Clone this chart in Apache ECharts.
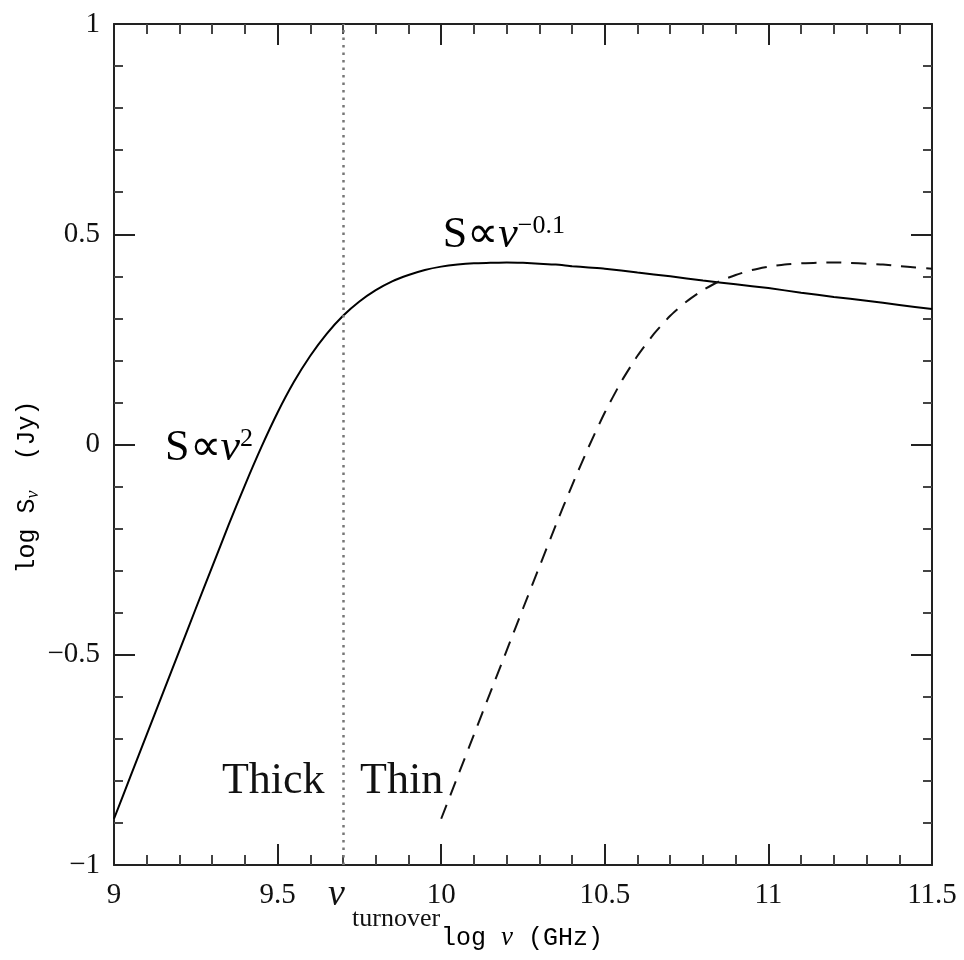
<!DOCTYPE html>
<html><head><meta charset="utf-8">
<script src="https://cdn.jsdelivr.net/npm/echarts@6/dist/echarts.min.js"></script>
<style>html,body{margin:0;padding:0;background:#fff}#c{width:964px;height:960px}</style>
</head><body><div id="c"></div>
<script>
// ---- data ----
const xTickLabels = ['9', '9.5', '10', '10.5', '11', '11.5'];
const yTickLabels = ['−1', '−0.5', '0', '0.5', '1'];

const solidX = [9.00, 9.05, 9.10, 9.15, 9.20, 9.25, 9.30, 9.35, 9.40, 9.45, 9.50, 9.55, 9.60, 9.65, 9.70,
  9.75, 9.80, 9.85, 9.90, 9.95, 10.00, 10.05, 10.10, 10.15, 10.20, 10.25, 10.30, 10.35, 10.40, 10.45, 10.50,
  10.60, 10.70, 10.80, 10.90, 11.00, 11.10, 11.20, 11.30, 11.40, 11.50];
const solidY = [-0.890, -0.790, -0.690, -0.590, -0.490, -0.390, -0.291, -0.192, -0.097, -0.007, 0.076, 0.149, 0.211, 0.263, 0.306,
  0.340, 0.367, 0.388, 0.403, 0.415, 0.423, 0.428, 0.431, 0.432, 0.433, 0.432, 0.430, 0.428, 0.424, 0.421, 0.418,
  0.409, 0.400, 0.390, 0.381, 0.372, 0.361, 0.351, 0.342, 0.332, 0.322];

const dashedX = [10.00, 10.05, 10.10, 10.15, 10.20, 10.25, 10.30, 10.35, 10.40, 10.45, 10.50, 10.55, 10.60, 10.65, 10.70,
  10.75, 10.80, 10.85, 10.90, 10.95, 11.00, 11.05, 11.10, 11.15, 11.20, 11.25, 11.30, 11.35, 11.40, 11.45, 11.50];
const dashedY = [-0.890, -0.790, -0.690, -0.590, -0.490, -0.390, -0.291, -0.192, -0.097, -0.007, 0.076, 0.149, 0.211, 0.263, 0.306,
  0.340, 0.367, 0.388, 0.403, 0.415, 0.423, 0.428, 0.431, 0.432, 0.433, 0.432, 0.430, 0.428, 0.424, 0.421, 0.418];

const turnoverX = 9.7;

// ---- chart ----
const chart = echarts.init(document.getElementById('c'), null, {renderer: 'canvas'});
const serif = 'Liberation Serif';
const mono = 'Liberation Mono';
const axisCol = '#222';

function xAxisDef(pos, showLabel) {
  return {
    type: 'value', min: 9, max: 11.5, interval: 0.5, position: pos,
    axisLine: {show: true, onZero: false, lineStyle: {color: axisCol, width: 2}},
    axisTick: {show: true, inside: true, length: 21, lineStyle: {color: axisCol, width: 2}},
    minorTick: {show: true, splitNumber: 5, length: 10, lineStyle: {color: '#444', width: 2}},
    splitLine: {show: false}, minorSplitLine: {show: false},
    axisLabel: {show: showLabel, margin: 16, fontFamily: serif, fontSize: 29, color: '#111',
      formatter: v => xTickLabels[Math.round((v - 9) / 0.5)]}
  };
}
function yAxisDef(pos, showLabel) {
  return {
    type: 'value', min: -1, max: 1, interval: 0.5, position: pos,
    axisLine: {show: true, onZero: false, lineStyle: {color: axisCol, width: 2}},
    axisTick: {show: true, inside: true, length: 21, lineStyle: {color: axisCol, width: 2}},
    minorTick: {show: true, splitNumber: 5, length: 9, lineStyle: {color: '#444', width: 2}},
    splitLine: {show: false}, minorSplitLine: {show: false},
    axisLabel: {show: showLabel, margin: 14, fontFamily: serif, fontSize: 29, color: '#111',
      formatter: v => yTickLabels[Math.round((v + 1) / 0.5)]}
  };
}

chart.setOption({
  animation: false,
  backgroundColor: '#fff',
  grid: {left: 114, right: 32, top: 24, bottom: 95, containLabel: false, outerBoundsMode: 'none'},
  xAxis: [xAxisDef('bottom', true), xAxisDef('top', false)],
  yAxis: [yAxisDef('left', true), yAxisDef('right', false)],
  series: [
    {
      type: 'line', name: 'solid', xAxisIndex: 0, yAxisIndex: 0,
      data: solidX.map((x, i) => [x, solidY[i]]),
      showSymbol: false, smooth: 0.2,
      lineStyle: {color: '#000', width: 2},
      markLine: {
        silent: true, symbol: ['none', 'none'],
        label: {show: false},
        lineStyle: {color: '#777', width: 2.5, type: [2.5, 5]},
        data: [{xAxis: turnoverX}]
      }
    },
    {
      type: 'line', name: 'dashed', xAxisIndex: 0, yAxisIndex: 0,
      data: dashedX.map((x, i) => [x, dashedY[i]]),
      showSymbol: false, smooth: 0.2,
      lineStyle: {color: '#111', width: 2, type: [15, 10]}
    }
  ]
});

// ---- annotations anchored to data coordinates ----
function px(x, y) { return chart.convertToPixel({gridIndex: 0}, [x, y]); }
const pSq = px(9.156, -0.042);
const pThin = px(10.005, 0.465);
const pThick = px(9.33, -0.838);
const pThinTxt = px(9.752, -0.838);
const pNu = px(turnoverX, -1);

const supRich = {
  a: {fontFamily: serif, fontSize: 44, color: '#111', lineHeight: 44},
  n: {fontFamily: serif, fontSize: 44, fontStyle: 'italic', color: '#111', lineHeight: 44},
  p: {fontFamily: serif, fontSize: 26, color: '#111', verticalAlign: 'top', lineHeight: 26}
};

chart.setOption({
  graphic: [
    {type: 'text', x: pSq[0], y: pSq[1] - 14, z: 10,
      style: {text: '{a|S∝}{n|ν}{p|2}', rich: supRich, align: 'left', verticalAlign: 'middle'}},
    {type: 'text', x: pThin[0], y: pThin[1] - 14, z: 10,
      style: {text: '{a|S∝}{n|ν}{p|−0.1}', rich: supRich, align: 'left', verticalAlign: 'middle'}},
    {type: 'text', x: pThick[0], y: pThick[1] - 15, z: 10,
      style: {text: 'Thick', fontFamily: serif, fontSize: 44, fill: '#111', align: 'left', verticalAlign: 'middle'}},
    {type: 'text', x: pThinTxt[0], y: pThinTxt[1] - 15, z: 10,
      style: {text: 'Thin', fontFamily: serif, fontSize: 44, fill: '#111', align: 'left', verticalAlign: 'middle'}},
    {type: 'text', x: pNu[0] - 15, y: pNu[1] + 30, z: 10,
      style: {text: 'ν', fontFamily: serif, fontSize: 38, fontStyle: 'italic', fill: '#111', align: 'left', verticalAlign: 'middle'}},
    {type: 'text', x: pNu[0] + 9, y: pNu[1] + 54, z: 10,
      style: {text: 'turnover', fontFamily: serif, fontSize: 26, fill: '#111', align: 'left', verticalAlign: 'middle'}},
    {type: 'text', x: 522, y: 938, z: 10,
      style: {text: '{t|log }{n|ν}{t| (GHz)}', align: 'center', verticalAlign: 'middle',
        rich: {
          t: {fontFamily: mono, fontSize: 25, color: '#111'},
          n: {fontFamily: serif, fontSize: 27, fontStyle: 'italic', color: '#111'}
        }}},
    {type: 'text', x: 27, y: 487, z: 10, rotation: Math.PI / 2,
      style: {text: '{t|log S}{s|ν}{t|  (Jy)}', align: 'center', verticalAlign: 'middle',
        rich: {
          t: {fontFamily: mono, fontSize: 25, color: '#111', lineHeight: 30},
          s: {fontFamily: serif, fontSize: 18, fontStyle: 'italic', color: '#111', verticalAlign: 'bottom', lineHeight: 30}
        }}}
  ]
});
</script>
</body></html>
